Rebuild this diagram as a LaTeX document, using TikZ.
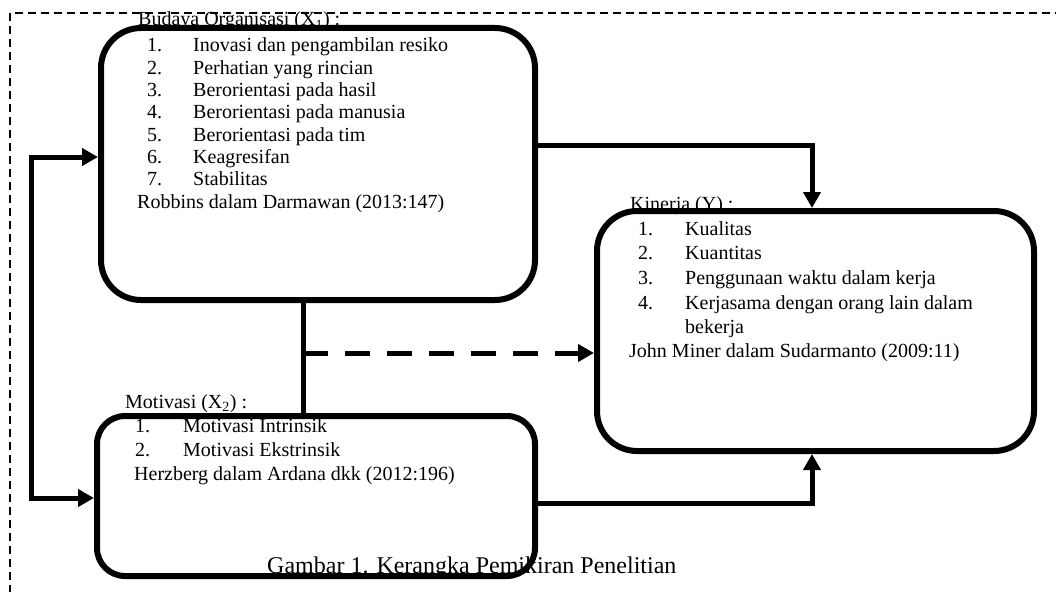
\documentclass[tikz,border=0pt]{standalone}
\usepackage{fontspec}
\setmainfont{Liberation Serif}
\usepackage{tikz}
\usetikzlibrary{arrows.meta}

\begin{document}
\begin{tikzpicture}[x=1pt,y=-1pt,
    >={Triangle[length=16pt,width=17pt]},
    box/.style={draw, line width=6pt, inner sep=0pt},
    txt/.style={anchor=base west, inner sep=0pt, font=\fontsize{20}{22}\selectfont},
    link/.style={line width=5pt}]
    \useasboundingbox (0,0) rectangle (1056,591);
    \clip (0,0) rectangle (1056,591);

    % Outer frame
    \draw[line width=1.2pt, dash pattern=on 8pt off 5pt] (10,13) rectangle (1080,620);

    % Budaya Organisasi
    \node[txt] (t1) at (138,26) {Budaya Organisasi (X\textsubscript{1}) :};
    \foreach \k/\t in {1/Inovasi dan pengambilan resiko, 2/Perhatian yang rincian,
        3/Berorientasi pada hasil, 4/Berorientasi pada manusia,
        5/Berorientasi pada tim, 6/Keagresifan, 7/Stabilitas} {
        \node[txt] (an\k) at (147,{52+22.3*(\k-1)}) {\k.};
        \node[txt] (at\k) at (193,{52+22.3*(\k-1)}) {\t};
    }
    \node[txt] (s1) at (137,208) {Robbins dalam Darmawan (2013:147)};

    % Motivasi
    \node[txt] (t2) at (125,408) {Motivasi (X\textsubscript{2}) :};
    \foreach \k/\t in {1/Motivasi Intrinsik, 2/Motivasi Ekstrinsik} {
        \node[txt] (bn\k) at (135,{432+24*(\k-1)}) {\k.};
        \node[txt] (bt\k) at (183,{432+24*(\k-1)}) {\t};
    }
    \node[txt] (s2) at (134,480) {Herzberg dalam Ardana dkk (2012:196)};

    % Kinerja
    \node[txt] (t3) at (630,210) {Kinerja (Y) :};
    \foreach \k/\t/\y in {1/Kualitas/235, 2/Kuantitas/259,
        3/Penggunaan waktu dalam kerja/284, 4/Kerjasama dengan orang lain dalam/309} {
        \node[txt] (cn\k) at (638,\y) {\k.};
        \node[txt] (ct\k) at (685,\y) {\t};
    }
    \node[txt] (ct5) at (685,333) {bekerja};
    \node[txt] (s3) at (629,357) {John Miner dalam Sudarmanto (2009:11)};

    % Caption
    \node[txt, font=\fontsize{24}{26}\selectfont] (cap) at (267,573) {Gambar 1. Kerangka Pemikiran Penelitian};

    % Boxes
    \node[box, rounded corners=40pt, minimum width=434pt, minimum height=272pt] (budaya) at (318,164) {};
    \node[box, rounded corners=28pt, minimum width=438pt, minimum height=160pt] (motivasi) at (316,496) {};
    \node[box, rounded corners=40pt, minimum width=437pt, minimum height=240pt] (kinerja) at (815.5,331) {};

    % Connectors
    \coordinate (l1) at (31,157);
    \coordinate (l2) at (31,498);
    \draw[link, <->] (l1 -| budaya.west) -- (l1) -- (l2) -- (l2 -| motivasi.west);
    \coordinate (r1) at (812,145);
    \coordinate (r2) at (812,503);
    \draw[link, ->] (r1 -| budaya.east) -- (r1) -- (r1 |- kinerja.north);
    \draw[link, ->] (r2 -| motivasi.east) -- (r2) -- (r2 |- kinerja.south);
    \coordinate (m) at (303,353);
    \draw[link] (m |- budaya.south) -- (m |- motivasi.north);
    \draw[link, ->, dash pattern=on 25pt off 17pt] (m) -- (m -| kinerja.west);
\end{tikzpicture}
\end{document}
